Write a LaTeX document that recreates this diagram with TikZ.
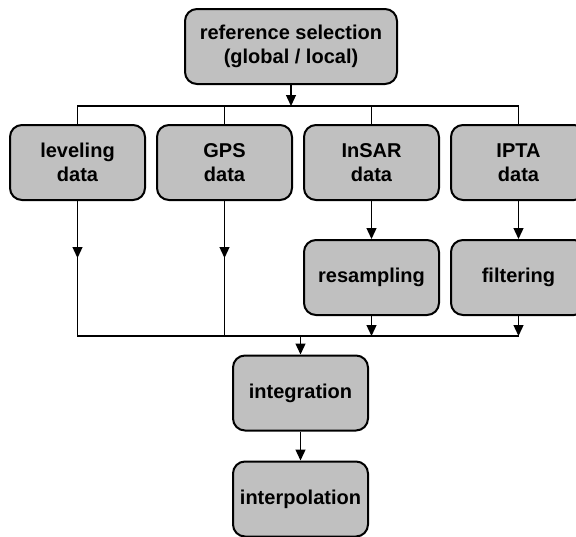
\documentclass[tikz,border=0pt]{standalone}
\usepackage{fontspec}
\setmainfont{Liberation Sans}
\usetikzlibrary{positioning,arrows.meta}
\definecolor{boxgray}{RGB}{192,192,192}
\tikzset{
  box/.style={draw,rounded corners=12pt,line width=2pt,fill=boxgray,
    minimum width=135pt,minimum height=75pt,align=center,inner sep=2pt,
    font=\bfseries\fontsize{20}{24}\selectfont},
  flow/.style={line width=1.3pt,-{Triangle[length=11pt,width=10pt]}},
  bus/.style={line width=1.3pt,line cap=rect}
}

\begin{document}
\begin{tikzpicture}[x=1pt,y=-1pt]
  \useasboundingbox (0,0) rectangle (576,536);
  \node [box,minimum width=212pt] (ref) at (291,46.5) {reference selection\\(global / local)};
  \node [box] (lev) at (77.5,162.5) {leveling\\data};
  \node [box,right=10pt of lev] (gps) {GPS\\data};
  \node [box,right=10pt of gps] (insar) {InSAR\\data};
  \node [box,right=10pt of insar] (ipta) {IPTA\\data};
  \node [box,below=38pt of insar] (resamp) {resampling};
  \node [box,below=38pt of ipta] (filter) {filtering};
  \node [box] (integ) at (300.5,393) {integration};
  \node [box,below=29pt of integ] (interp) {interpolation};

  \coordinate (bus1) at (0,106);
  \coordinate (tips) at (0,258);
  \coordinate (bus2) at (0,336);

  % distribution from the reference
  \draw[flow] (ref) -- (ref |- bus1);
  \draw[bus] (lev |- bus1) -- (ipta |- bus1);
  \foreach \n in {lev,gps,insar,ipta}
    \draw[bus] (\n |- bus1) -- (\n.north);

  % data streams
  \foreach \n in {lev,gps} {
    \draw[flow] (\n) -- (\n |- tips);
    \draw[bus] (\n |- tips) -- (\n |- bus2);
  }
  \draw[flow] (insar) -- (resamp);
  \draw[flow] (ipta) -- (filter);
  \draw[flow] (resamp) -- (resamp |- bus2);
  \draw[flow] (filter) -- (filter |- bus2);
  \draw[bus] (lev |- bus2) -- (filter |- bus2);

  % merging
  \draw[flow] (integ |- bus2) -- (integ);
  \draw[flow] (integ) -- (interp);
\end{tikzpicture}
\end{document}
